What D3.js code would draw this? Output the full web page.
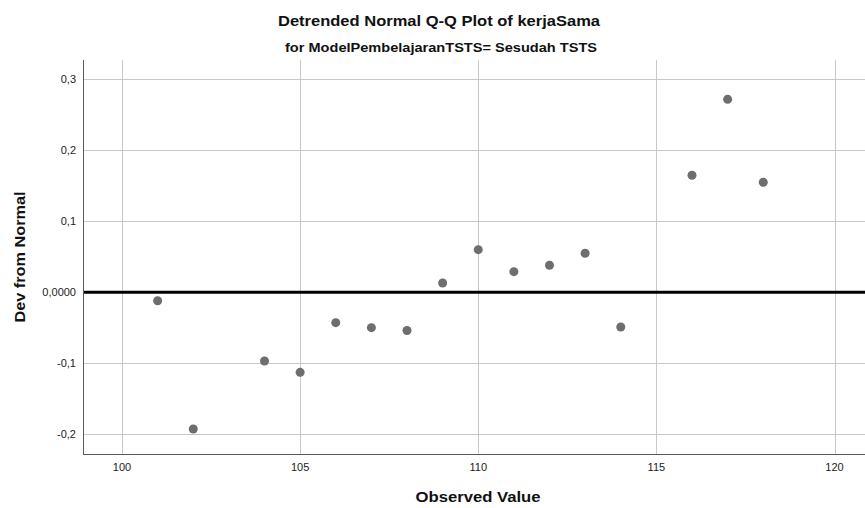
<!DOCTYPE html>
<html>
  <head>
    <meta charset="utf-8" />
    <title>Detrended Normal Q-Q Plot</title>
    <script src="https://d3js.org/d3.v7.min.js"></script>
    <style>
      body {
        margin: 0;
        background: #fff;
      }
      svg {
        font-family: "Liberation Sans", Arial, sans-serif;
        display: block;
      }
      .grid line {
        stroke: #c8c8c8;
        stroke-width: 1;
        shape-rendering: crispEdges;
      }
      .axis-line {
        stroke: #5a5a5a;
        stroke-width: 1;
        shape-rendering: crispEdges;
      }
      .tick-label {
        font-size: 11px;
        fill: #222;
      }
    </style>
  </head>
  <body>
    <div id="chart"></div>
    <script>
      // data
      const observed = [101, 102, 104, 105, 106, 107, 108, 109, 110, 111, 112, 113, 114, 116, 117, 118];
      const devFromNormal = [-0.012, -0.193, -0.097, -0.113, -0.043, -0.05, -0.054, 0.013, 0.06, 0.029, 0.038, 0.055, -0.049, 0.165, 0.272, 0.155];
      const xTicks = [100, 105, 110, 115, 120];
      const yTicks = [-0.2, -0.1, 0, 0.1, 0.2, 0.3];

      const width = 865;
      const height = 508;
      const plot = { left: 83, right: 865, top: 60, bottom: 454 };

      const xScale = d3.scaleLinear().domain([98.905, 120.856]).range([plot.left, plot.right]);
      const yScale = d3.scaleLinear().domain([-0.2282, 0.3275]).range([plot.bottom, plot.top]);

      // comma decimals like the original
      const yFormat = (d) => (d === 0 ? "0,0000" : d3.format(".1f")(d).replace(".", ",").replace("−", "-"));

      const svg = d3.select("#chart").append("svg").attr("width", width).attr("height", height);

      // gridlines
      const grid = svg.append("g").attr("class", "grid");
      grid
        .selectAll(".vgrid")
        .data(xTicks)
        .join("line")
        .attr("x1", (d) => Math.round(xScale(d)) + 0.5)
        .attr("x2", (d) => Math.round(xScale(d)) + 0.5)
        .attr("y1", plot.top)
        .attr("y2", plot.bottom);
      grid
        .selectAll(".hgrid")
        .data(yTicks)
        .join("line")
        .attr("x1", plot.left)
        .attr("x2", plot.right)
        .attr("y1", (d) => Math.round(yScale(d)) + 0.5)
        .attr("y2", (d) => Math.round(yScale(d)) + 0.5);

      // zero reference line
      svg
        .append("line")
        .attr("x1", plot.left)
        .attr("x2", plot.right)
        .attr("y1", yScale(0))
        .attr("y2", yScale(0))
        .attr("stroke", "#000")
        .attr("stroke-width", 3);

      // axis frame (left + bottom)
      svg.append("line").attr("class", "axis-line").attr("x1", plot.left + 0.5).attr("x2", plot.left + 0.5).attr("y1", plot.top).attr("y2", plot.bottom + 0.5);
      svg.append("line").attr("class", "axis-line").attr("x1", plot.left).attr("x2", plot.right).attr("y1", plot.bottom + 0.5).attr("y2", plot.bottom + 0.5);

      // tick labels
      svg
        .selectAll(".xlab")
        .data(xTicks)
        .join("text")
        .attr("class", "tick-label")
        .attr("x", (d) => xScale(d))
        .attr("y", 471)
        .attr("text-anchor", "middle")
        .text((d) => d);

      svg
        .selectAll(".ylab")
        .data(yTicks)
        .join("text")
        .attr("class", "tick-label")
        .attr("x", 76)
        .attr("y", (d) => yScale(d) + 4)
        .attr("text-anchor", "end")
        .text(yFormat);

      // points
      const points = observed.map((x, i) => ({ x, y: devFromNormal[i] }));
      svg
        .selectAll(".dot")
        .data(points)
        .join("circle")
        .attr("class", "dot")
        .attr("cx", (d) => xScale(d.x))
        .attr("cy", (d) => yScale(d.y))
        .attr("r", 4.5)
        .attr("fill", "#6e6e6e");

      // titles (stretched a bit, the original font is wider)
      const title = (txt, x, y, size, len) =>
        svg
          .append("text")
          .attr("x", x)
          .attr("y", y)
          .attr("text-anchor", "middle")
          .attr("font-size", size)
          .attr("font-weight", "bold")
          .attr("fill", "#111")
          .attr("textLength", len)
          .attr("lengthAdjust", "spacingAndGlyphs")
          .text(txt);

      title("Detrended Normal Q-Q Plot of kerjaSama", 439, 26, "15px", 322);
      title("for ModelPembelajaranTSTS= Sesudah TSTS", 441, 52, "13px", 312);
      title("Observed Value", 478, 502, "15px", 125);
      title("Dev from Normal", -257, 25, "15px", 131).attr("transform", "rotate(-90)");
    </script>
  </body>
</html>
